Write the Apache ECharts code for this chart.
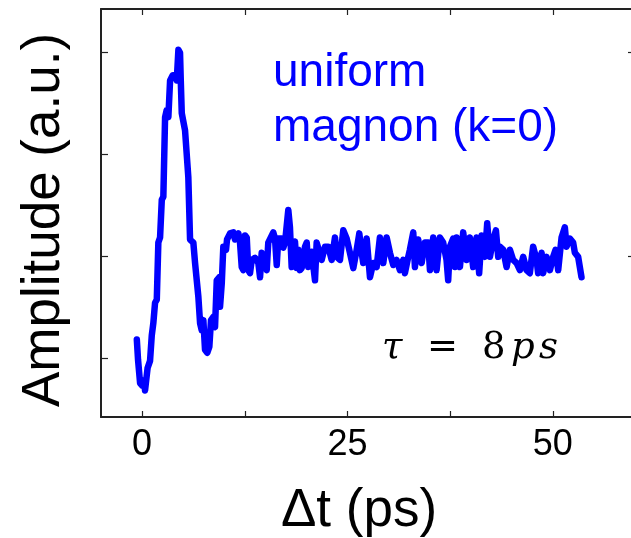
<!DOCTYPE html>
<html>
<head>
<meta charset="utf-8">
<script src="https://cdn.jsdelivr.net/npm/echarts@6/dist/echarts.min.js"></script>
<style>
html,body{margin:0;padding:0;background:#fff;}
#chart{width:631px;height:538px;}
</style>
</head>
<body>
<div id="chart"></div>
<script>
// Delay time (ps)
var time = [
-0.64,-0.49,-0.24,0,0.24,0.36,0.67,0.97,1.18,1.37,
1.58,1.79,1.98,2.19,2.40,2.59,2.80,3.00,3.20,3.41,
3.73,4.01,4.22,4.42,4.62,4.71,4.83,5.23,5.63,5.84,
6.24,6.45,6.85,7.06,7.26,7.46,7.66,7.94,8.19,8.39,
8.67,8.88,9.09,9.40,9.49,9.70,9.89,10.22,10.34,10.71,
11.11,11.31,11.72,11.92,12.13,12.32,12.53,12.74,12.93,13.14,
13.35,13.75,14.15,14.36,14.56,14.76,15.17,15.36,15.57,15.97,
16.18,16.39,16.58,17.00,17.19,17.40,17.80,18.00,18.21,18.61,
18.82,19.01,19.22,19.43,19.83,20.04,20.23,20.64,21.05,21.25,
21.45,21.86,22.26,22.66,23.08,23.48,23.69,24.09,24.49,24.90,
25.30,25.71,26.12,26.44,26.73,26.92,27.34,27.74,28.14,28.55,
28.95,29.36,29.77,30.17,30.58,30.98,31.39,31.79,31.99,32.40,
32.60,33.01,33.21,33.61,34.03,34.43,34.83,35.04,35.44,35.85,
36.25,36.65,37.06,37.26,37.47,37.87,38.08,38.28,38.69,39.09,
39.50,39.90,40.30,40.72,41.03,41.33,41.73,42.01,42.34,42.74,
43.07,43.35,43.55,43.95,44.37,44.77,45.17,45.58,45.99,46.39,
46.80,47.20,47.60,48.02,48.21,48.63,48.82,49.23,49.64,50.04,
50.33,50.65,51.06,51.46,51.67,52.07,52.47,52.68,53.08,53.49
];
// Amplitude (a.u.)
var amplitude = [
0.18,-0.02,-0.25,-0.27,-0.22,-0.32,-0.10,-0.03,0.22,0.34,
0.54,0.57,1.13,1.18,1.55,1.58,2.36,2.43,2.36,2.72,
2.77,2.77,2.72,3.02,2.99,2.72,2.40,2.23,1.77,1.16,
1.13,0.93,0.60,0.34,0.27,0.37,0.08,0.05,0.11,0.37,
0.40,0.30,0.76,0.79,0.50,0.73,1.09,1.06,1.16,1.22,
1.23,1.16,1.22,1.13,0.89,0.86,1.20,1.18,0.86,0.83,
0.96,0.98,0.93,0.79,1.03,1.04,0.86,1.13,1.14,1.23,
1.17,0.91,1.17,1.17,1.08,1.13,1.45,1.28,0.89,1.14,
0.88,1.06,0.86,0.88,1.09,1.13,0.89,1.04,0.76,1.13,
1.13,0.96,1.09,1.09,0.96,1.18,0.99,0.96,1.25,1.17,
1.03,0.88,1.06,1.22,1.03,0.93,1.17,0.79,0.93,0.89,
1.18,0.93,1.18,1.03,0.91,0.96,0.86,0.96,0.83,0.99,
1.06,1.23,0.89,1.16,0.93,1.13,1.13,0.86,1.18,0.86,
1.18,1.13,0.96,0.76,1.09,1.17,0.89,1.18,0.89,1.23,
0.96,1.18,0.89,1.18,0.83,1.20,0.99,1.32,0.99,1.16,
1.25,0.99,1.09,1.06,0.89,1.06,0.96,0.93,0.86,0.99,
0.86,0.83,1.09,0.96,0.83,1.03,0.83,0.99,0.86,0.99,
1.06,0.86,1.18,1.28,1.09,1.17,1.13,1.03,0.99,0.79
];
var xTickValues = [0, 12.5, 25, 37.5, 50];
var xLabelValues = [0, 25, 50];
var yTickValues = [0, 1, 2, 3];
var yRightTickValues = [1, 3];

var seriesData = time.map(function (t, i) { return [t, amplitude[i]]; });

var chart = echarts.init(document.getElementById('chart'), null, {renderer: 'canvas'});
var axisLine = {show: true, onZero: false, lineStyle: {color: '#222', width: 2}};
var tickStyle = {color: '#222', width: 1.2};
var sans = 'Liberation Sans, Arial, sans-serif';
var serif = 'DejaVu Serif, Liberation Serif, serif';

chart.setOption({
  animation: false,
  backgroundColor: '#fff',
  grid: {left: 101, top: 9, width: 534, bottom: 121, containLabel: false, outerBoundsMode: 'none'},
  xAxis: [{
    type: 'value', min: -5, max: 60, position: 'bottom',
    axisLine: axisLine,
    axisTick: {show: true, inside: true, length: 6, lineStyle: tickStyle, customValues: xTickValues},
    axisLabel: {show: true, customValues: xLabelValues, color: '#000', fontSize: 36, fontFamily: sans, margin: 10},
    splitLine: {show: false},
    name: 'Δt (ps)', nameLocation: 'middle', nameGap: 68,
    nameTextStyle: {color: '#000', fontSize: 53, fontFamily: sans, padding: [0, 18, 0, 0]}
  }, {
    type: 'value', min: -5, max: 60, position: 'top',
    axisLine: axisLine,
    axisTick: {show: true, inside: true, length: 6, lineStyle: tickStyle, customValues: xTickValues},
    axisLabel: {show: false},
    splitLine: {show: false}
  }],
  yAxis: [{
    type: 'value', min: -0.58, max: 3.42, position: 'left',
    axisLine: axisLine,
    axisTick: {show: true, inside: true, length: 7, lineStyle: tickStyle, customValues: yTickValues},
    axisLabel: {show: false},
    splitLine: {show: false},
    name: 'Amplitude (a.u.)', nameLocation: 'middle', nameRotate: 90, nameGap: 30,
    nameTextStyle: {color: '#000', fontSize: 53, fontFamily: sans, padding: [0, 14, 0, 0]}
  }, {
    type: 'value', min: -0.58, max: 3.42, position: 'right',
    axisLine: axisLine,
    axisTick: {show: true, inside: true, length: 7, lineStyle: tickStyle, customValues: yRightTickValues},
    axisLabel: {show: false},
    splitLine: {show: false}
  }],
  series: [{
    type: 'line',
    data: seriesData,
    xAxisIndex: 0, yAxisIndex: 0,
    showSymbol: false,
    lineStyle: {color: '#0000ff', width: 6.5, cap: 'round', join: 'round'},
    clip: true
  }],
  graphic: [
    {type: 'text', x: 273, y: 73, style: {text: 'uniform', fill: '#0000ff', font: '46px ' + sans, textVerticalAlign: 'middle'}},
    {type: 'text', x: 273, y: 128, style: {text: 'magnon (k=0)', fill: '#0000ff', font: '46px ' + sans, textVerticalAlign: 'middle'}},
    {type: 'text', x: 382, y: 348, style: {
      text: '{t|τ}{e|=}{n|8}{p|p}{s|s}',
      textVerticalAlign: 'middle',
      rich: {
        t: {fontFamily: serif, fontStyle: 'italic', fontSize: 37, fill: '#000', width: 45},
        e: {fontFamily: serif, fontSize: 37, fill: '#000', width: 55},
        n: {fontFamily: serif, fontSize: 37, fill: '#000', width: 29},
        p: {fontFamily: serif, fontStyle: 'italic', fontSize: 37, fill: '#000', width: 28},
        s: {fontFamily: serif, fontStyle: 'italic', fontSize: 37, fill: '#000'}
      }
    }}
  ]
});
</script>
</body>
</html>
